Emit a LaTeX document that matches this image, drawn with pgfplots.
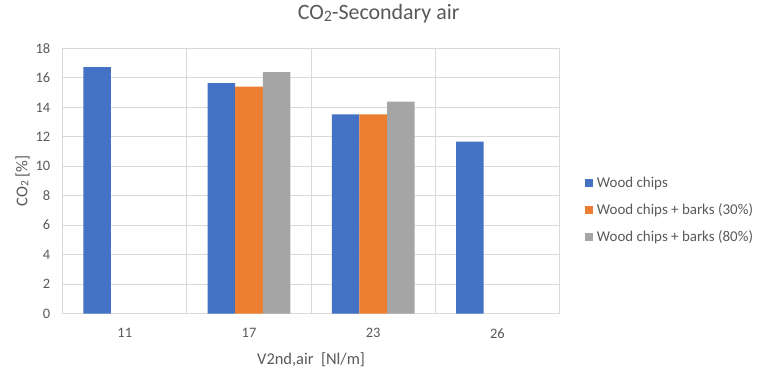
\documentclass[border=0pt]{standalone}
\usepackage{pgfplots}
\pgfplotsset{compat=1.18}
\usepackage{fontspec}
\setmainfont{Carlito}
\definecolor{cblue}{HTML}{4472C4}
\definecolor{corange}{HTML}{ED7D31}
\definecolor{cgray}{HTML}{A5A5A5}
\definecolor{gridc}{HTML}{D9D9D9}
\definecolor{txt}{HTML}{595959}
\pgfplotsset{sq/.style={legend image code/.code={\fill[##1] (0bp,-4bp) rectangle (8bp,4bp);}}}
\begin{document}
\begin{tikzpicture}
\path[use as bounding box] (0,0) rectangle (759bp,372bp);
\begin{axis}[
 at={(62.7bp,58.5bp)}, anchor=south west,
 scale only axis, width=496.8bp, height=265bp,
 xmin=-0.5, xmax=3.5, ymin=0, ymax=18,
 xtick={0,1,2,3}, xticklabels={11,17,23,26},
 minor xtick={-0.5,0.5,1.5,2.5,3.5},
 xminorgrids, ymajorgrids,
 ytick={0,2,...,18},
 major tick length=0pt, minor tick length=0pt,
 grid style={draw=gridc, line width=1bp},
 minor grid style={draw=gridc, line width=1bp},
 axis line style={draw=none},
 ybar=0pt, bar width=27.6bp,
 /pgf/number format/assume math mode=true,
 tick label style={font=\fontsize{14.5}{16}\selectfont, text=txt},
 yticklabel style={xshift=-9bp},
 xticklabel style={yshift=-11.5bp},
 xlabel={V2nd,air\ \ [Nl/m]},
 ylabel={CO\raisebox{-1bp}{\fontsize{11.5}{12}\selectfont 2} [\%]},
 label style={font=\fontsize{16.5}{18}\selectfont, text=txt},
 xlabel style={at={(axis description cs:0.5,-0.1906)}, anchor=base},
 ylabel style={at={(axis description cs:-0.0713,0.5)}, anchor=base},
 title={CO\raisebox{-1.5bp}{\fontsize{16}{17}\selectfont 2}-Secondary air},
 title style={at={(axis description cs:0.636,1.085)}, anchor=base, font=\fontsize{22}{24}\selectfont, text=txt},
 legend style={at={(axis description cs:1.0517,0.3906)}, anchor=west, draw=none, fill=none, inner sep=0pt, font=\fontsize{15}{17}\selectfont, text=txt, row sep=14.7bp, column sep=3.6bp, nodes={inner sep=0pt}},
 legend cell align=left,
 clip=false,
]
\addplot[fill=cblue, draw=none, sq] coordinates {(0,16.73) (1,15.64) (2,13.53) (3,11.67)};
\addplot[fill=corange, draw=none, sq] coordinates {(1,15.41) (2,13.53)};
\addplot[fill=cgray, draw=none, sq] coordinates {(1,16.39) (2,14.39)};
\legend{Wood chips, Wood chips + barks (30\%), Wood chips + barks (80\%)}
\end{axis}
\end{tikzpicture}
\end{document}
